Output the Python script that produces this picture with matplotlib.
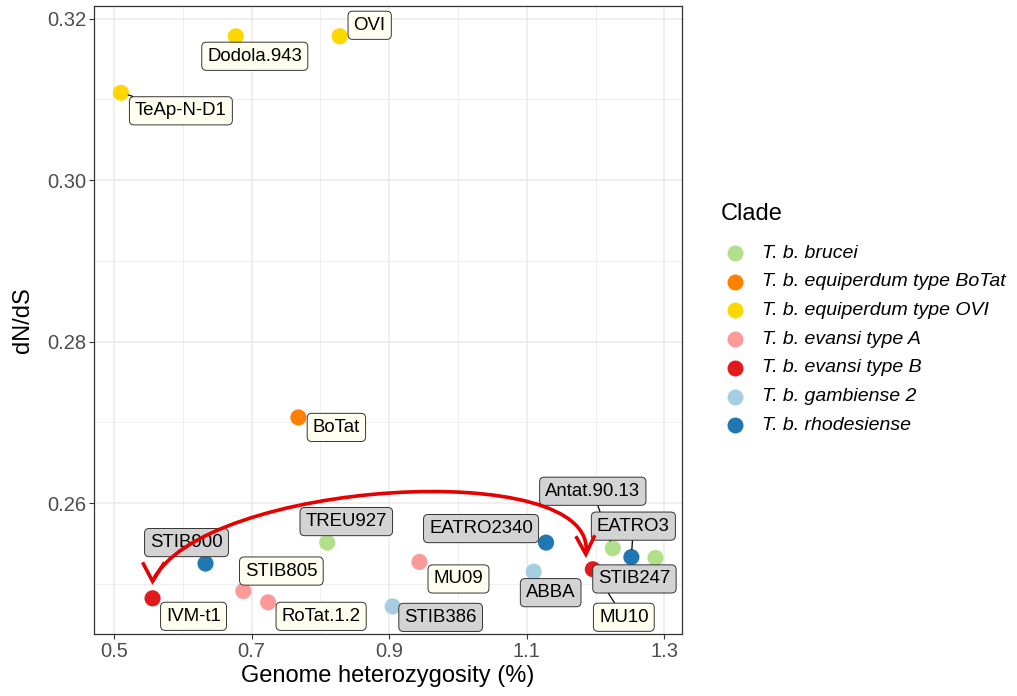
import matplotlib
matplotlib.use("Agg")
import matplotlib.pyplot as plt
from matplotlib.lines import Line2D
from matplotlib.path import Path
from matplotlib.patches import PathPatch
from matplotlib.transforms import IdentityTransform

# ---------------- data ----------------
clades = ['T. b. brucei', 'T. b. equiperdum type BoTat', 'T. b. equiperdum type OVI',
          'T. b. evansi type A', 'T. b. evansi type B', 'T. b. gambiense 2',
          'T. b. rhodesiense']
clade_colors = ['#B2DF8A', '#FF7F00', '#FFD700', '#FB9A99', '#E31A1C', '#A6CEE3', '#1F78B4']
clade_grey_label = [True, False, False, False, False, True, True]

strains = ['TeAp-N-D1', 'Dodola.943', 'OVI', 'BoTat', 'TREU927', 'STIB900', 'IVM-t1',
           'STIB805', 'RoTat.1.2', 'MU09', 'STIB386', 'EATRO2340', 'ABBA', 'MU10',
           'Antat.90.13', 'EATRO3', 'STIB247']
heterozygosity = [0.510, 0.677, 0.828, 0.768, 0.810, 0.633, 0.556,
                  0.688, 0.724, 0.944, 0.905, 1.128, 1.110, 1.196,
                  1.225, 1.252, 1.287]
dnds = [0.3108, 0.3178, 0.3178, 0.2706, 0.2551, 0.2525, 0.2482,
        0.2491, 0.2477, 0.2527, 0.2472, 0.2551, 0.2515, 0.2518,
        0.2544, 0.2533, 0.2532]
strain_clade = ['T. b. equiperdum type OVI', 'T. b. equiperdum type OVI', 'T. b. equiperdum type OVI',
                'T. b. equiperdum type BoTat', 'T. b. brucei', 'T. b. rhodesiense',
                'T. b. evansi type B', 'T. b. evansi type A', 'T. b. evansi type A',
                'T. b. evansi type A', 'T. b. gambiense 2', 'T. b. rhodesiense',
                'T. b. gambiense 2', 'T. b. evansi type B', 'T. b. brucei',
                'T. b. rhodesiense', 'T. b. brucei']
x_ticks = [0.5, 0.7, 0.9, 1.1, 1.3]
y_ticks = [0.26, 0.28, 0.30, 0.32]

# ---------------- layout / style ----------------
# label offsets (pixels: right, down) and whether a leader segment is drawn
label_offsets = {
    'TeAp-N-D1': (60, 18), 'Dodola.943': (19, 20), 'OVI': (30, -11), 'BoTat': (38, 10),
    'TREU927': (19, -21), 'STIB900': (-19, -21), 'IVM-t1': (41, 18), 'STIB805': (38, -20),
    'RoTat.1.2': (53, 14), 'MU09': (39, 17), 'STIB386': (48, 11), 'EATRO2340': (-65, -14),
    'ABBA': (17, 21), 'MU10': (31, 48), 'Antat.90.13': (-20, -57), 'EATRO3': (2, -31),
    'STIB247': (-21, 21)}
segment_labels = {'TeAp-N-D1', 'MU10', 'Antat.90.13', 'EATRO3'}

plt.rcParams['font.family'] = ['Liberation Sans', 'DejaVu Sans']

W, H = 1017, 696
fig = plt.figure(figsize=(W / 100, H / 100), dpi=100)
L, R, T, B = 94, 682, 6, 634
ax = fig.add_axes([L / W, 1 - B / H, (R - L) / W, (B - T) / H])

ax.set_xlim(0.4709, 1.3256)
ax.set_ylim(0.24378, 0.32155)
ax.set_xticks(x_ticks)
ax.set_xticklabels([f'{v:.1f}' for v in x_ticks])
ax.set_yticks(y_ticks)
ax.set_yticklabels([f'{v:.2f}' for v in y_ticks])
ax.set_xticks([0.6, 0.8, 1.0, 1.2], minor=True)
ax.set_yticks([0.25, 0.27, 0.29, 0.31], minor=True)
ax.grid(True, which='major', color='#EBEBEB', lw=1.1)
ax.grid(True, which='minor', color='#EBEBEB', lw=0.55)
ax.set_axisbelow(True)
ax.tick_params(which='minor', length=0)
ax.tick_params(which='major', length=3.3, width=0.8, color='#333333',
               labelsize=14.5, labelcolor='#4D4D4D', pad=2.5)
for s in ax.spines.values():
    s.set_color('#333333')
    s.set_linewidth(0.9)

ax.set_xlabel('Genome heterozygosity (%)', fontsize=17, labelpad=3)
ax.set_ylabel('dN/dS', fontsize=17, labelpad=9)

color_of = dict(zip(clades, clade_colors))
grey_of = dict(zip(clades, clade_grey_label))

ax.scatter(heterozygosity, dnds, s=135, c=[color_of[c] for c in strain_clade],
           linewidths=0, zorder=3)

for name, xv, yv, cl in zip(strains, heterozygosity, dnds, strain_clade):
    dx, dy = label_offsets[name]
    fc = '#D3D3D3' if grey_of[cl] else '#FFFFF0'
    arrow = None
    if name in segment_labels:
        arrow = dict(arrowstyle='-', color='black', lw=0.9, shrinkA=0, shrinkB=5.5)
    ax.annotate(name, xy=(xv, yv), xytext=(dx, -dy), textcoords='offset pixels',
                ha='center', va='center', fontsize=13.4, zorder=5,
                bbox=dict(boxstyle='round,pad=0.3,rounding_size=0.25', fc=fc,
                          ec='#333333', lw=0.7),
                arrowprops=arrow)

# curved double arrow between IVM-t1 and MU10 (pixel offsets, display coords)
arrow_color = '#E60000'
i_a = strains.index('IVM-t1')
i_b = strains.index('MU10')
pa = ax.transData.transform((heterozygosity[i_a], dnds[i_a]))
pb = ax.transData.transform((heterozygosity[i_b], dnds[i_b]))
P0 = (pa[0], pa[1] + 17)
P3 = (pb[0] - 7, pb[1] + 15)
P1 = (P0[0] + 48, P0[1] + 101)
P2 = (P3[0] + 15, P3[1] + 99)
path = Path([P3, P2, P1, P0], [Path.MOVETO, Path.CURVE4, Path.CURVE4, Path.CURVE4])
fig.add_artist(PathPatch(path, fc='none', ec=arrow_color, lw=2.6,
                         transform=IdentityTransform(), zorder=6))
for tip, (la, ra) in ((P0, ((-10, 19), (12, 19))), (P3, ((-10, 18), (9, 19)))):
    xs = [tip[0] + la[0], tip[0], tip[0] + ra[0]]
    ys = [tip[1] + la[1], tip[1], tip[1] + ra[1]]
    fig.add_artist(Line2D(xs, ys, color=arrow_color, lw=2.6, transform=IdentityTransform(),
                          solid_joinstyle='miter', solid_capstyle='butt', zorder=6))

# legend (ggplot-like, drawn manually)
fig.text(721 / W, 1 - 214 / H, 'Clade', fontsize=17, va='center', ha='left')
y0, dyl = 253, 28.7
for k, (cl, col) in enumerate(zip(clades, clade_colors)):
    yy = 1 - (y0 + k * dyl) / H
    fig.add_artist(Line2D([735 / W], [yy], marker='o', markersize=11.5, color=col,
                          markeredgewidth=0, linestyle='none', transform=fig.transFigure))
    fig.text(762 / W, yy, cl, fontsize=14, style='italic', va='center', ha='left')

fig.savefig('out.png', dpi=100)
